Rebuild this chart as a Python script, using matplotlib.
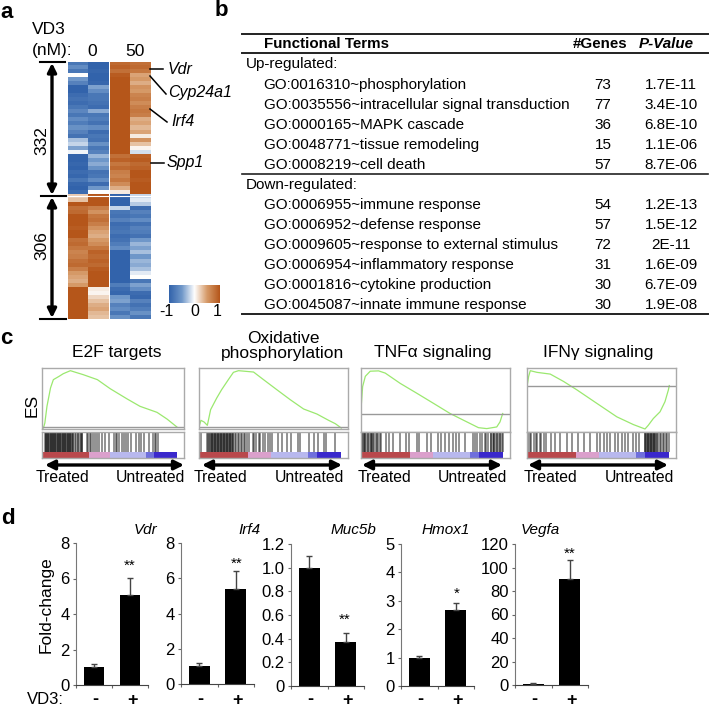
import matplotlib
matplotlib.use("Agg")
import matplotlib.pyplot as plt
from matplotlib.colors import LinearSegmentedColormap
import numpy as np

plt.rcParams['font.family'] = ['Liberation Sans', 'DejaVu Sans']

W, H = 710, 707

# panel a
heat_col1 = [-.8, -.6, -.8, .0, -.5, -.7, -1, -1, -.9, -.85, -.9, -.8, -.65, -.8, -.6, -.75, -.55, -.7, -.85, -.3,
             -.2, -.45, -.05, -1, -1, -.95, -1, -.9, -.95, -.8, -.95, -1, -.9,
             .25, .3, 1, .8, .85, 1, 1, 1, .95, 1, 1, .8, .85, .75, .65, .7, .8, .85, .7, .5, .45, .4, .5,
             1, 1, 1, 1, 1, 1, 1, 1]
heat_col2 = [-1, -1, -.95, -1, -1, -.95, -.45, -.6, -.8, -.8, -.85, -.9, -.4, -.8, -.75, -.85, -.6, -.9, -.8, -.85,
             -.55, -.8, -.7, -.35, -.5, -.4, -.55, -.85, -.8, -.6, -.9, -.5, .0,
             1, 1, 1, .7, .55, .75, .8, .7, .55, .45, .4, .5, .6, .75, .9, .85, .9, .85, .95, 1, 1, 1, 1,
             .1, .05, .2, .3, .4, .45, .35, .3]
heat_col3 = [.85, .9, .8, .95, 1, 1, 1, 1, 1, 1, 1, 1, 1, 1, 1, 1, 1, 1, 1, 1, 1, 1, 1,
             .8, .9, .75, .85, .7, .65, .75, .6, .4, .1,
             -1, -1, -1, -.2, -.8, -.85, -.7, -.9, -.85, -.8, -.9, -.85, -.75, -.6, -1, -1, -1, -1, -1, -1, -1,
             -1, -.75, -.9, -.95, -.5, -.45, -.7, -.6, -.8, -.55]
heat_col4 = [.8, .85, .75, .45, .5, .4, .55, .5, .65, .7, .6, .7, .75, .7, .4, .45, .35, .45, .1, .55, .3, .05, -.15,
             .9, .95, .85, .9, 1, 1, .95, 1, 1, 1,
             -.2, -.1, -.25, -.9, -.7, -.8, -.6, -.85, -.7, -.75, -.85, -.5, -.35, -.45, -.3, -.5, -.35, -.4, -.3, -.1, .0,
             -.8, -.45, -.6, -.9, -.95, -.7, -.85, -.75, -.55, -.8]

cbar_ticks = [-1, 0, 1]

# panel b
up_terms = ["GO:0016310~phosphorylation", "GO:0035556~intracellular signal transduction",
            "GO:0000165~MAPK cascade", "GO:0048771~tissue remodeling", "GO:0008219~cell death"]
up_genes = [73, 77, 36, 15, 57]
up_pvals = ["1.7E-11", "3.4E-10", "6.8E-10", "1.1E-06", "8.7E-06"]
down_terms = ["GO:0006955~immune response", "GO:0006952~defense response",
              "GO:0009605~response to external stimulus", "GO:0006954~inflammatory response",
              "GO:0001816~cytokine production", "GO:0045087~innate immune response"]
down_genes = [54, 57, 72, 31, 30, 30]
down_pvals = ["1.2E-13", "1.5E-12", "2E-11", "1.6E-09", "6.7E-09", "1.9E-08"]

# panel c
es_x1 = [.01, .02, .035, .06, .08, .12, .15, .20, .23, .29, .39, .48, .60, .69, .81, .88, .95]
es_y1 = [.016, .098, .372, .673, .809, .863, .907, .956, .934, .891, .809, .661, .492, .372, .273, .164, .033]
es_x2 = [0, .013, .034, .056, .078, .119, .152, .197, .231, .265, .366, .433, .522, .612, .702, .791, .870, .915, .955]
es_y2 = [.033, .142, .115, .060, .317, .508, .645, .809, .929, .956, .934, .809, .645, .481, .328, .246, .142, .087, .016]
es_x3 = [.002, .011, .029, .062, .118, .163, .263, .375, .487, .598, .688, .788, .844, .911, .933, .951]
es_y3 = [.42, .71, .87, .95, .955, .92, .76, .605, .447, .289, .184, .068, .053, .079, .158, .289]
es_x4 = [.002, .011, .022, .067, .156, .246, .335, .469, .603, .714, .792, .814, .848, .893, .926, .949, .955]
es_y4 = [.737, .868, .958, .932, .905, .789, .658, .447, .237, .116, .047, .105, .211, .316, .474, .658, .726]
es_zero = [.027, .027, .279, .726]
gsea_titles = ["E2F targets", "Oxidative\nphosphorylation", "TNFα signaling", "IFNγ signaling"]

hits1 = [.02, .025, .03, .035, .04, .045, .05, .055, .06, .065, .07, .075, .08, .085, .09, .095, .10, .105, .11, .115,
         .12, .125, .13, .135, .14, .145, .15, .155, .16, .165, .17, .175, .18, .185, .19, .195, .20, .205, .21, .215,
         .22, .23, .24, .25, .255, .265, .275, .28, .285, .315, .325, .335, .345, .36, .375, .39, .40, .42, .445, .47,
         .505, .52, .53, .545, .56, .575, .59, .605, .63, .665, .685, .70, .72, .755, .78, .795, .805, .815]
hits2 = [.015, .055, .06, .07, .075, .08, .085, .09, .095, .10, .105, .11, .115, .12, .125, .13, .135, .14, .145, .15,
         .155, .16, .165, .17, .175, .18, .185, .19, .195, .20, .205, .21, .215, .22, .225, .23, .24, .25, .26, .27,
         .28, .29, .30, .31, .32, .335, .36, .37, .385, .40, .41, .43, .44, .46, .475, .49, .53, .56, .59, .62, .665,
         .68, .74, .77, .80, .84, .855, .91]
hits3 = [.003, .01, .015, .02, .025, .03, .04, .05, .055, .065, .07, .075, .08, .09, .10, .105, .115, .125, .135, .17,
         .185, .215, .26, .30, .325, .375, .39, .44, .47, .52, .54, .565, .59, .615, .64, .66, .70, .75, .765, .78, .80,
         .815, .83, .84, .855, .87, .875, .885, .89, .895, .905, .915, .92, .93, .935, .945, .95]
hits4 = [.003, .01, .02, .03, .05, .06, .07, .085, .095, .115, .13, .16, .19, .22, .27, .30, .345, .385, .425, .47, .49,
         .52, .54, .56, .59, .61, .64, .66, .68, .71, .73, .75, .79, .795, .80, .805, .81, .815, .82, .825, .83, .835,
         .84, .845, .85, .855, .86, .865, .87, .88, .89, .90, .91, .92, .93, .94, .95]

strip_edges = [0, .33, .48, .73, .79, .95, 1]
strip_colors = ['#b9484c', '#dba0cc', '#b8b8ee', '#6f6fdc', '#3a28cc', '#ffffff']

# panel d
bar_genes = ["Vdr", "Irf4", "Muc5b", "Hmox1", "Vegfa"]
bar_ctrl = [1.03, 1.0, 1.0, 1.0, 1.0]
bar_vd3 = [5.05, 5.4, .375, 2.66, 90]
err_ctrl = [.18, .18, .1, .04, .8]
err_vd3 = [.97, 1.0, .07, .27, 16.5]
bar_ymax = [8, 8, 1.2, 5, 120]
bar_ticks = [[0, 2, 4, 6, 8], [0, 2, 4, 6, 8], [0, .2, .4, .6, .8, 1.0, 1.2], [0, 1, 2, 3, 4, 5],
             [0, 20, 40, 60, 80, 100, 120]]
bar_ticklabels = [["0", "2", "4", "6", "8"], ["0", "2", "4", "6", "8"],
                  ["0", "0.2", "0.4", "0.6", "0.8", "1.0", "1.2"], ["0", "1", "2", "3", "4", "5"],
                  ["0", "20", "40", "60", "80", "100", "120"]]
bar_stars = ["**", "**", "**", "*", "**"]
vd3_labels = ["-", "+"]


def px_axes(fig, x0, y0, x1, y1):
    # pixel box measured from the top left of the picture
    return fig.add_axes([x0 / W, 1 - y1 / H, (x1 - x0) / W, (y1 - y0) / H])


def double_arrow(ax, p0, p1, size=13, lw=2.4):
    ax.annotate("", xy=p1, xytext=p0,
                arrowprops=dict(arrowstyle="<|-|>", color='black', lw=lw, mutation_scale=size,
                                shrinkA=0, shrinkB=0))


fig = plt.figure(figsize=(W / 100, H / 100), dpi=100)

over = fig.add_axes([0, 0, 1, 1], zorder=5)
over.set_xlim(0, W)
over.set_ylim(H, 0)
over.axis('off')
over.patch.set_alpha(0)

for label, x, y in [("a", 7, 12), ("b", 221, 10), ("c", 6, 339), ("d", 8, 519)]:
    over.text(x, y, label, fontsize=16, fontweight='bold', ha='center', va='center')

# a: heatmap
cmap = LinearSegmentedColormap.from_list("bwo", [(0, '#3263ab'), (.25, '#6f97c9'), (.5, '#ffffff'),
                                                 (.75, '#d69a68'), (1, '#b5561a')])
left = np.array([heat_col1, heat_col2]).T
right = np.array([heat_col3, heat_col4]).T
ax = px_axes(fig, 68, 62, 108.5, 319)
ax.imshow(left, cmap=cmap, vmin=-1, vmax=1, aspect='auto', interpolation='nearest')
ax.axis('off')
ax = px_axes(fig, 110.5, 62, 151, 319)
ax.imshow(right, cmap=cmap, vmin=-1, vmax=1, aspect='auto', interpolation='nearest')
ax.axis('off')
over.plot([68, 151], [195.5, 195.5], color='white', lw=.8)

ax = px_axes(fig, 169, 285, 220, 303)
ax.imshow(np.linspace(-1, 1, 128)[None, :], cmap=cmap, vmin=-1, vmax=1, aspect='auto')
ax.axis('off')
for val, x in zip(cbar_ticks, [166, 195, 217]):
    over.text(x, 312, str(val), fontsize=11.5, ha='center', va='center')

over.text(32, 30, "VD3", fontsize=12.5, va='center')
over.text(32, 51, "(nM):", fontsize=12.5, va='center')
over.text(92, 51, "0", fontsize=12.5, ha='center', va='center')
over.text(135, 51, "50", fontsize=12.5, ha='center', va='center')

for y0, x0, x1 in [(62, 40, 65), (196, 41, 66), (319, 40, 66)]:
    over.plot([x0, x1], [y0, y0], color='black', lw=1.5)
double_arrow(over, (52, 63), (52, 195))
double_arrow(over, (52, 197), (52, 318))
over.text(42, 141, "332", fontsize=12.5, rotation=90, ha='center', va='center')
over.text(42, 246, "306", fontsize=12.5, rotation=90, ha='center', va='center')

for name, x, y in [("Vdr", 168, 69), ("Cyp24a1", 168, 93), ("Irf4", 171, 121), ("Spp1", 167, 163)]:
    over.text(x, y, name, fontsize=11.5, style='italic', va='center')
for xs, ys in [([150, 163], [69, 69]), ([150, 166], [76, 94]), ([150, 167], [109, 122]), ([151, 164], [163, 163])]:
    over.plot(xs, ys, color='black', lw=1.1)

# b: table
for y0, lw in [(34, 1.4), (53, 1.4), (174, 1.2), (314, 1.4)]:
    over.plot([242, 708], [y0, y0], color='#222222', lw=lw)
fs = 11
over.text(263.5, 44, "Functional Terms", fontsize=10.9, fontweight='bold', va='center')
over.text(600, 44, "#Genes", fontsize=10.9, fontweight='bold', ha='center', va='center')
over.text(666, 44, "P-Value", fontsize=10.9, fontweight='bold', style='italic', ha='center', va='center')
over.text(246, 64, "Up-regulated:", fontsize=fs, va='center')
over.text(246, 185, "Down-regulated:", fontsize=fs, va='center')
for start, terms, genes, pvals in [(85, up_terms, up_genes, up_pvals), (205, down_terms, down_genes, down_pvals)]:
    for i in range(len(terms)):
        y0 = start + i * 20
        over.text(263.5, y0, terms[i], fontsize=fs, va='center')
        over.text(603, y0, str(genes[i]), fontsize=fs, ha='center', va='center')
        over.text(671, y0, pvals[i], fontsize=fs, ha='center', va='center')

# c: enrichment plots
gsea_x = [(42, 184), (199, 348), (361, 510), (527, 676)]
gsea_es = [(es_x1, es_y1), (es_x2, es_y2), (es_x3, es_y3), (es_x4, es_y4)]
gsea_hits = [hits1, hits2, hits3, hits4]
gsea_bottom = [429, 429, 432, 432]
title_pos = [(117, 352), (283, 346), (433, 353), (598, 353)]
arrow_x = [(45, 184), (202, 342), (362, 502), (528, 668)]
treated_x = [62, 220, 384, 550]
untreated_x = [150, 309, 472, 639]

for i in range(4):
    x0, x1 = gsea_x[i]
    ax = px_axes(fig, x0, 368, x1, gsea_bottom[i])
    ax.plot(gsea_es[i][0], gsea_es[i][1], color='#9be86f', lw=.9)
    ax.axhline(es_zero[i], color='#999999', lw=1)
    ax.set_xlim(0, 1)
    ax.set_ylim(0, 1)
    ax.set_xticks([])
    ax.set_yticks([])
    for s in ax.spines.values():
        s.set_color('#aaaaaa')
        s.set_linewidth(1)

    ax = px_axes(fig, x0, 432, x1, 458)
    ax.vlines(gsea_hits[i], .22, 1, color='black', lw=1.2, alpha=.5)
    for j in range(len(strip_colors)):
        ax.barh(.11, strip_edges[j + 1] - strip_edges[j], .22, left=strip_edges[j], color=strip_colors[j])
    ax.set_xlim(0, 1)
    ax.set_ylim(0, 1)
    ax.set_xticks([])
    ax.set_yticks([])
    for s in ax.spines.values():
        s.set_color('#aaaaaa')
        s.set_linewidth(1)

    over.text(title_pos[i][0], title_pos[i][1], gsea_titles[i], fontsize=12.5, ha='center', va='center',
              linespacing=1.05)
    double_arrow(over, (arrow_x[i][0], 465), (arrow_x[i][1], 465), size=14, lw=2.4)
    over.text(treated_x[i], 478, "Treated", fontsize=11.3, ha='center', va='center')
    over.text(untreated_x[i], 478, "Untreated", fontsize=11.3, ha='center', va='center')
over.text(32, 405, "ES", fontsize=12.5, rotation=90, ha='center', va='center')

# d: bar charts
bar_boxes = [(76, 543, 148, 685), (181, 543, 254, 684), (291, 544, 364, 686), (401, 544, 474, 686), (515, 544, 588, 685)]
title_x = [146, 249, 353, 446, 540]
star_pos = [(130, 566), (237, 564), (345, 620), (457, 594), (570, 554)]

for i in range(5):
    ax = px_axes(fig, *bar_boxes[i])
    ax.bar([.5, 1.5], [bar_ctrl[i], bar_vd3[i]], width=.58, color='black',
           yerr=[[0, 0], [err_ctrl[i], err_vd3[i]]], ecolor='#444444', error_kw=dict(lw=1, capsize=2, capthick=1))
    ax.set_xlim(0, 2)
    ax.set_ylim(0, bar_ymax[i])
    ax.set_yticks(bar_ticks[i])
    ax.set_yticklabels(bar_ticklabels[i], fontsize=12)
    ax.set_xticks([0, 1, 2])
    ax.set_xticklabels([])
    ax.tick_params(axis='both', length=2.5, width=.8, color='#666666', pad=2)
    ax.spines['top'].set_visible(False)
    ax.spines['right'].set_visible(False)
    ax.spines['left'].set_color('#777777')
    ax.spines['bottom'].set_color('#444444')
    over.text(title_x[i], 530, bar_genes[i], fontsize=11, style='italic', ha='center', va='center')
    over.text(star_pos[i][0], star_pos[i][1], bar_stars[i], fontsize=11, ha='center', va='center')
    x0, _, x1, _ = bar_boxes[i]
    over.text(x0 + (x1 - x0) * .25 + 1, 700, vd3_labels[0], fontsize=13, fontweight='bold', ha='center', va='center')
    over.text(x0 + (x1 - x0) * .75 + 2, 700, vd3_labels[1], fontsize=13, fontweight='bold', ha='center', va='center')

over.text(46, 605, "Fold-change", fontsize=12.5, rotation=90, ha='center', va='center')
over.text(27, 700, "VD3:", fontsize=12, va='center')

fig.savefig("out.png", dpi=100)
